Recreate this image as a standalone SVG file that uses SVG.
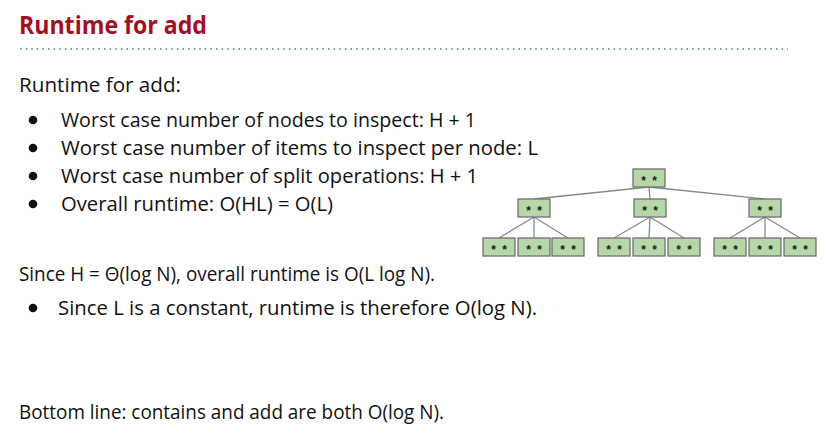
<svg xmlns="http://www.w3.org/2000/svg" width="828" height="433" viewBox="0 0 828 433">
<style>
.t{font-family:"Open Sans","Liberation Sans",Arial,sans-serif;font-size:20.5px;fill:#111}
.title{font-family:"Open Sans","Liberation Sans",Arial,sans-serif;font-size:24.5px;font-weight:bold;fill:#a50e1f}
.n rect{fill:#b6d7a8;stroke:#707070;stroke-width:1.3}
.n text{font-family:"Liberation Sans",Arial,sans-serif;font-size:12px;font-weight:bold;fill:#222;text-anchor:middle;word-spacing:3px}
#edges line{stroke:#888;stroke-width:1.3}
</style>
<rect width="828" height="433" fill="#fff"/>
<text class="title" x="19" y="34" textLength="188" lengthAdjust="spacingAndGlyphs">Runtime for add</text>
<line x1="20" y1="49" x2="788" y2="49" stroke="#4f7fa3" stroke-width="1.6" stroke-dasharray="1.6 4"/>
<text class="t" x="19" y="92" textLength="162" lengthAdjust="spacingAndGlyphs">Runtime for add:</text>
<g fill="#111">
<circle cx="33" cy="120" r="4.3"/>
<circle cx="33" cy="148" r="4.3"/>
<circle cx="33" cy="176" r="4.3"/>
<circle cx="33" cy="204" r="4.3"/>
<circle cx="33" cy="308" r="4.3"/>
</g>
<text class="t" x="61" y="127" textLength="415" lengthAdjust="spacingAndGlyphs">Worst case number of nodes to inspect: H + 1</text>
<text class="t" x="61" y="155" textLength="477" lengthAdjust="spacingAndGlyphs">Worst case number of items to inspect per node: L</text>
<text class="t" x="61" y="183" textLength="417" lengthAdjust="spacingAndGlyphs">Worst case number of split operations: H + 1</text>
<text class="t" x="61" y="211" textLength="272" lengthAdjust="spacingAndGlyphs">Overall runtime: O(HL) = O(L)</text>
<text class="t" x="19" y="281" textLength="416" lengthAdjust="spacingAndGlyphs">Since H = Θ(log N), overall runtime is O(L log N).</text>
<text class="t" x="58" y="315" textLength="479" lengthAdjust="spacingAndGlyphs">Since L is a constant, runtime is therefore O(log N).</text>
<text class="t" x="19" y="419" textLength="425" lengthAdjust="spacingAndGlyphs">Bottom line: contains and add are both O(log N).</text>
<g id="edges">
<line x1="649" y1="187" x2="534" y2="199"/>
<line x1="649" y1="187" x2="650" y2="199"/>
<line x1="649" y1="187" x2="765" y2="199"/>
<line x1="534" y1="217" x2="499" y2="238"/>
<line x1="534" y1="217" x2="534" y2="238"/>
<line x1="534" y1="217" x2="568" y2="238"/>
<line x1="650" y1="217" x2="614" y2="238"/>
<line x1="650" y1="217" x2="649" y2="238"/>
<line x1="650" y1="217" x2="684" y2="238"/>
<line x1="765" y1="217" x2="730" y2="238"/>
<line x1="765" y1="217" x2="765" y2="238"/>
<line x1="765" y1="217" x2="800" y2="238"/>
</g>
<g id="root" class="n"><rect x="633" y="169" width="32" height="18"/><text x="649" y="185">* *</text></g>
<g id="mid-left" class="n"><rect x="518" y="199" width="32" height="18"/><text x="534" y="215">* *</text></g>
<g id="mid-center" class="n"><rect x="634" y="199" width="32" height="18"/><text x="650" y="215">* *</text></g>
<g id="mid-right" class="n"><rect x="749" y="199" width="32" height="18"/><text x="765" y="215">* *</text></g>
<g id="leaf1" class="n"><rect x="483" y="238" width="32" height="18"/><text x="499" y="254">* *</text></g>
<g id="leaf2" class="n"><rect x="518" y="238" width="32" height="18"/><text x="534" y="254">* *</text></g>
<g id="leaf3" class="n"><rect x="552" y="238" width="32" height="18"/><text x="568" y="254">* *</text></g>
<g id="leaf4" class="n"><rect x="598" y="238" width="32" height="18"/><text x="614" y="254">* *</text></g>
<g id="leaf5" class="n"><rect x="633" y="238" width="32" height="18"/><text x="649" y="254">* *</text></g>
<g id="leaf6" class="n"><rect x="668" y="238" width="32" height="18"/><text x="684" y="254">* *</text></g>
<g id="leaf7" class="n"><rect x="714" y="238" width="32" height="18"/><text x="730" y="254">* *</text></g>
<g id="leaf8" class="n"><rect x="749" y="238" width="32" height="18"/><text x="765" y="254">* *</text></g>
<g id="leaf9" class="n"><rect x="784" y="238" width="32" height="18"/><text x="800" y="254">* *</text></g>
</svg>
